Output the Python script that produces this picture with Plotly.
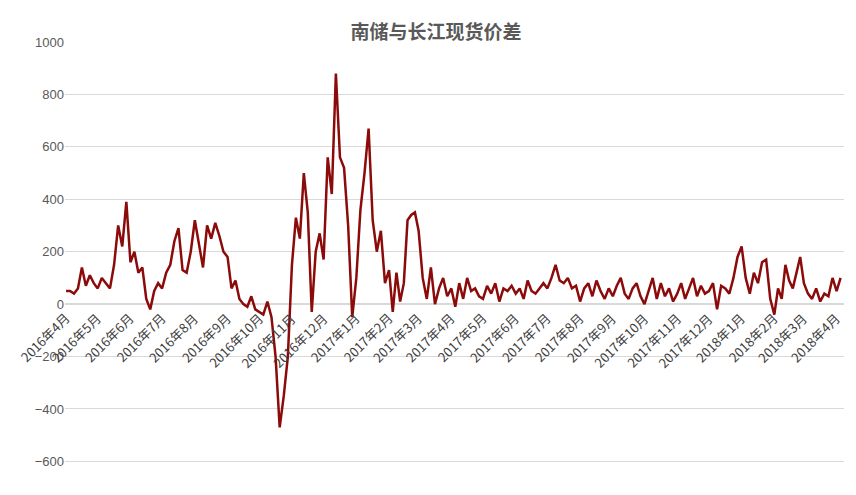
import pandas as pd
import plotly.graph_objects as go

months = pd.date_range("2016-04-01", "2018-04-01", freq="MS")

# roughly 8 readings per month
monthly_values = [
    [50, 50, 40, 60, 140, 70, 110, 80],
    [60, 100, 80, 60, 150, 300, 220, 390],
    [160, 200, 120, 140, 20, -20, 50, 80],
    [60, 120, 150, 240, 290, 130, 120, 200],
    [320, 230, 140, 300, 250, 310, 260, 200],
    [180, 60, 90, 20, 0, -10, 30, -20],
    [-30, -40, 10, -50, -200, -470, -350, -200],
    [150, 330, 250, 500, 350, -30, 200, 270],
    [170, 560, 420, 880, 560, 520, 300, -50],
    [100, 360, 500, 670, 320, 200, 280, 80],
    [130, -30, 120, 10, 80, 320, 340, 350],
    [280, 100, 20, 140, 0, 60, 100, 30],
    [60, -10, 80, 20, 100, 50, 60, 30],
    [20, 70, 40, 80, 10, 60, 50, 70],
    [40, 60, 20, 90, 50, 40, 60, 80],
    [60, 100, 150, 90, 80, 100, 60, 70],
    [10, 60, 80, 30, 90, 50, 20, 60],
    [30, 70, 100, 40, 20, 60, 80, 30],
    [0, 50, 100, 20, 80, 30, 60, 10],
    [40, 80, 20, 60, 100, 30, 70, 40],
    [50, 80, -20, 70, 60, 40, 100, 180],
    [220, 100, 40, 120, 80, 160, 170, 20],
    [-40, 60, 20, 150, 90, 60, 120, 180],
    [80, 40, 20, 60, 10, 40, 30, 100],
    [50, 100],
]

tick_labels = [f"{m.year}年{m.month}月" for m in months]

dates, values = [], []
for m, vals in zip(months, monthly_values):
    for i, v in enumerate(vals):
        dates.append(m + pd.Timedelta(days=i * m.days_in_month / 8))
        values.append(v)

fig = go.Figure()
fig.add_trace(go.Scatter(x=dates, y=values, mode="lines",
                         line=dict(color="#8b0a0a", width=2.5)))

for m, lab in zip(months, tick_labels):
    fig.add_annotation(x=m, y=0, xref="x", yref="y", text=lab, showarrow=False,
                       textangle=-45, xanchor="right", yanchor="top",
                       xshift=10, yshift=-2,
                       font=dict(size=13, color="#404040"))

fig.update_layout(
    width=856, height=495,
    title=dict(text="<b>南储与长江现货价差</b>", x=0.5, y=0.965,
               font=dict(family="Noto Sans CJK SC", size=19, color="#595959")),
    paper_bgcolor="white", plot_bgcolor="white",
    margin=dict(l=57, r=20, t=34, b=18),
    showlegend=False,
    font=dict(family="Noto Sans CJK SC", color="#595959"),
    xaxis=dict(showticklabels=False, showgrid=False,
               range=[pd.Timestamp("2016-03-31"), pd.Timestamp("2018-04-08")]),
    yaxis=dict(range=[-690, 1000], tickvals=list(range(-600, 1001, 200)),
               gridcolor="#d9d9d9", zeroline=True, zerolinecolor="#d9d9d9",
               tickfont=dict(size=13, family="Liberation Sans")),
)

fig.write_html("out.html")
